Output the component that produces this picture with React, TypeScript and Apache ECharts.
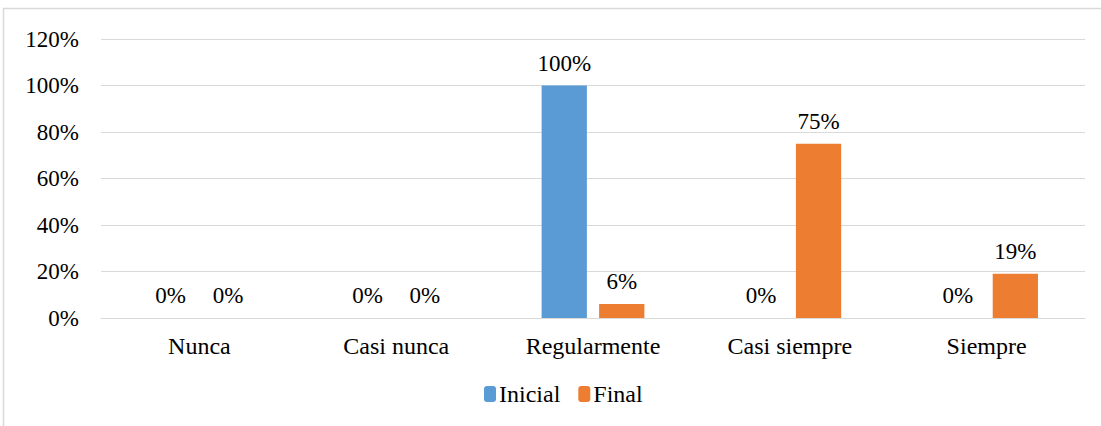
import React, { useEffect, useRef } from "react";
import * as echarts from "echarts";

const categories = ["Nunca", "Casi nunca", "Regularmente", "Casi siempre", "Siempre"];
const inicial = [0, 0, 100, 0, 0];
const final = [0, 0, 6, 75, 19];
const seriesNames = ["Inicial", "Final"];

const FONT = "Liberation Serif";

export default function App() {
  const ref = useRef<HTMLDivElement>(null);
  useEffect(() => {
    const chart = echarts.init(ref.current!, null, { renderer: "svg" });
    const labelStyle = {
      show: true,
      position: "top" as const,
      distance: 11,
      formatter: "{c}%",
      fontFamily: FONT,
      fontSize: 23,
      color: "#000",
    };
    chart.setOption({
      animation: false,
      graphic: [
        {
          type: "rect",
          shape: { x: 3.5, y: 8.5, width: 1200, height: 500 },
          style: { fill: "none", stroke: "#D9D9D9", lineWidth: 1.5 },
          silent: true,
        },
      ],
      legend: {
        bottom: 15,
        left: 479,
        itemWidth: 12,
        itemHeight: 16,
        itemGap: 18,
        textStyle: { fontFamily: FONT, fontSize: 24, color: "#000", padding: [0, 0, 0, -2] },
        data: seriesNames,
      },
      grid: { left: 101, right: 16, top: 39, bottom: 108, containLabel: false },
      xAxis: {
        type: "category",
        data: categories,
        axisLine: { lineStyle: { color: "#D9D9D9" } },
        axisTick: { show: false },
        axisLabel: { fontFamily: FONT, fontSize: 24, color: "#000", margin: 16 },
      },
      yAxis: {
        type: "value",
        min: 0,
        max: 120,
        interval: 20,
        axisLine: { show: false },
        axisTick: { show: false },
        splitLine: { lineStyle: { color: "#D9D9D9" } },
        axisLabel: { formatter: "{value}%", fontFamily: FONT, fontSize: 23, color: "#000", margin: 22 },
      },
      series: [
        {
          name: seriesNames[0],
          type: "bar",
          data: inicial,
          barWidth: "23%",
          barGap: "27%",
          itemStyle: { color: "#5B9BD5" },
          label: labelStyle,
        },
        {
          name: seriesNames[1],
          type: "bar",
          data: final,
          barWidth: "23%",
          barGap: "27%",
          itemStyle: { color: "#ED7D31" },
          label: labelStyle,
        },
      ],
    });
    return () => chart.dispose();
  }, []);
  return (
    <div
      ref={ref}
      style={{ position: "fixed", left: 0, top: 0, width: 1101, height: 426, background: "#fff" }}
    />
  );
}
